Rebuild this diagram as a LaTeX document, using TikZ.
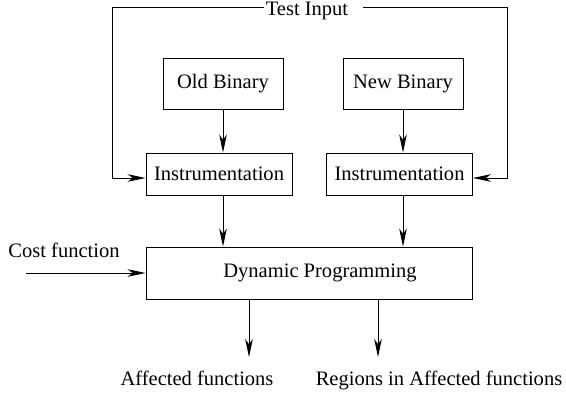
\documentclass[tikz,border=0pt]{standalone}
\usepackage{fontspec}
\setmainfont{Liberation Serif}
\usetikzlibrary{arrows.meta}

\begin{document}
\begin{tikzpicture}[x=0.025cm, y=-0.025cm, line width=0.65pt,
	font=\fontsize{14.6}{17}\selectfont,
	>={Stealth[length=0.45cm, width=0.19cm, inset=0.13cm]},
	binbox/.style={draw, minimum width=3cm, minimum height=1.275cm, inner sep=0pt},
	instbox/.style={draw, minimum width=3.65cm, minimum height=1.05cm, inner sep=0pt}]
	\useasboundingbox (0,0) rectangle (566,400);
	
	\node[binbox] (old) at (223,84) {Old Binary};
	\node[binbox] (new) at (403,84) {New Binary};
	\node[instbox] (instl) at (219,174) {Instrumentation};
	\node[instbox] (instr) at (399.5,174) {Instrumentation};
	\node[draw, minimum width=8.15cm, minimum height=1.3cm, inner sep=0pt] (dp) at (309,273) {\hspace{0.55cm}Dynamic Programming};
	
	\node[inner sep=1pt] (test) at (307,11) {Test Input};
	\coordinate (tl) at (112,7);
	\coordinate (tr) at (507,7);
	\node (cost) at (64,250) {Cost function};
	\coordinate (costin) at (26,273);
	\node[anchor=base] (affected) at (197,385) {Affected functions};
	\node[anchor=base] (regions) at (439,385) {Regions in Affected functions};
	\coordinate (outa) at (249,357);
	\coordinate (outb) at (378,357);
	
	\draw[->] (test.west |- tl) -- (tl) |- ([yshift=-0.1cm]instl.west);
	\draw[->] ([xshift=0.33cm]test.east |- tr) -- (tr) |- ([yshift=-0.1cm]instr.east);
	\draw[->] (old) -- (old |- instl.north);
	\draw[->] (new) -- (new |- instr.north);
	\draw[->] (instl.south -| old) -- (dp.north -| old);
	\draw[->] (instr.south -| new) -- (dp.north -| new);
	\draw[->] (costin) -- (dp.west);
	\draw[->] (dp.south -| outa) -- (outa);
	\draw[->] (dp.south -| outb) -- (outb);
\end{tikzpicture}
\end{document}
